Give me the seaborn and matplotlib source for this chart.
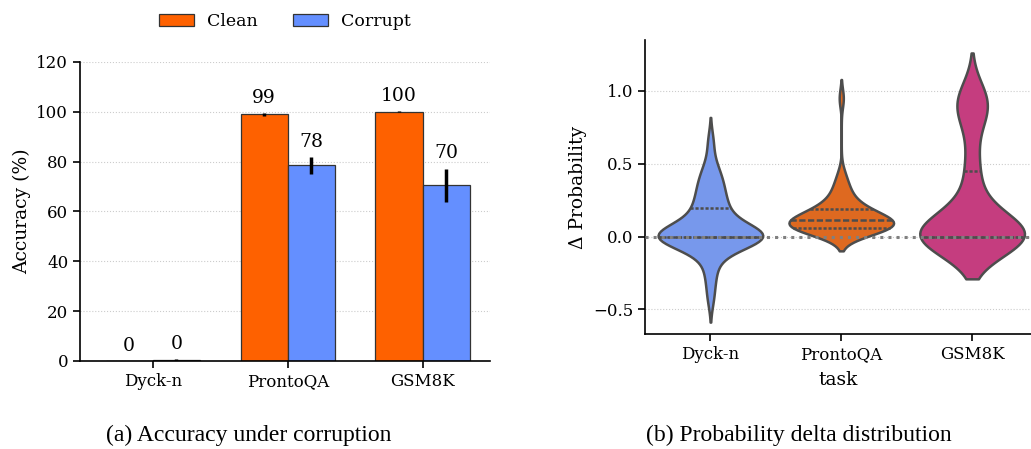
import numpy as np
import pandas as pd
import matplotlib
matplotlib.use("Agg")
import matplotlib.pyplot as plt
import seaborn as sns

tasks = ["Dyck-n", "ProntoQA", "GSM8K"]
conditions = ["Clean", "Corrupt"]

# accuracy (%) with error bar half-widths
clean_acc = [0.0, 99.0, 100.0]
clean_err = [0.0, 0.5, 0.2]
corrupt_acc = [0.4, 78.5, 70.5]
corrupt_err = [0.3, 3.4, 6.7]

# probability deltas per task
dyck_delta = [-0.42, -0.3, -0.22, -0.15, -0.1, -0.06, -0.03,
              0.0, 0.0, 0.0, 0.0, 0.0, 0.0, 0.0, 0.0,
              0.0, 0.0, 0.0, 0.0, 0.0, 0.0, 0.0, 0.0,
              0.02, 0.05, 0.08, 0.1, 0.13, 0.16, 0.19, 0.2,
              0.22, 0.26, 0.3, 0.33, 0.36, 0.4, 0.44, 0.5, 0.65]
pronto_delta = [0.03, 0.035, 0.04, 0.045, 0.05, 0.05, 0.055, 0.058, 0.06, 0.06,
                0.06, 0.065, 0.07, 0.08, 0.085, 0.09, 0.095, 0.1, 0.105, 0.11,
                0.11, 0.115, 0.12, 0.13, 0.135, 0.14, 0.15, 0.16, 0.17, 0.19,
                0.19, 0.2, 0.22, 0.24, 0.27, 0.3, 0.33, 0.37, 0.43, 0.95]
gsm_delta = [0.0, 0.0, 0.0, 0.0, 0.0, 0.0, 0.0, 0.0, 0.0, 0.0, 0.0,
             0.0, 0.0, 0.0, 0.0, 0.0, 0.0, 0.0, 0.0, 0.0, 0.0, 0.0,
             0.03, 0.06, 0.1, 0.14, 0.19, 0.25, 0.32, 0.43, 0.5, 0.6,
             0.8, 0.85, 0.88, 0.9, 0.92, 0.94, 0.96, 0.97]

bar_colors = ["#FE6100", "#648FFF"]
violin_colors = ["#648FFF", "#FE6100", "#DC267F"]

sns.set_style("ticks")
plt.rcParams["font.family"] = "DejaVu Serif"
plt.rcParams["text.color"] = "black"
plt.rcParams["axes.labelcolor"] = "black"
plt.rcParams["xtick.color"] = "black"
plt.rcParams["ytick.color"] = "black"

fig = plt.figure(figsize=(10.31, 4.49), dpi=100)
ax1 = fig.add_axes([0.0776, 0.196, 0.3977, 0.666])
ax2 = fig.add_axes([0.6256, 0.256, 0.3744, 0.655])

# (a) accuracy bars
acc_df = pd.DataFrame({
    "task": tasks * 2,
    "condition": ["Clean"] * 3 + ["Corrupt"] * 3,
    "acc": clean_acc + corrupt_acc,
})
sns.barplot(data=acc_df, x="task", y="acc", hue="condition", order=tasks,
            hue_order=conditions, palette=bar_colors, saturation=1,
            errorbar=None, edgecolor="#333333", linewidth=0.9, width=0.7, ax=ax1)

for cont, errs in zip(ax1.containers, [clean_err, corrupt_err]):
    for bar, e in zip(cont, errs):
        x = bar.get_x() + bar.get_width() / 2
        h = bar.get_height()
        ax1.errorbar(x, h, yerr=e, color="black", lw=2.5, capsize=0, zorder=4)
        ax1.text(x, h + e + 2.5, f"{h:.0f}", ha="center", va="bottom", fontsize=13.5)

handles, labels = ax1.get_legend_handles_labels()
ax1.legend(handles, labels, loc="center", bbox_to_anchor=(0.5, 1.134), ncol=2,
           frameon=False, fontsize=12.5)
ax1.set_ylim(0, 120)
ax1.set_xlim(-0.54, 2.5)
ax1.set_yticks([0, 20, 40, 60, 80, 100, 120])
ax1.set_xlabel("")
ax1.set_ylabel("Accuracy (%)", fontsize=13.5)
ax1.yaxis.grid(True, linestyle=":", color="#cccccc", lw=0.8)
ax1.set_axisbelow(True)
sns.despine(ax=ax1)

# (b) delta violins
delta_df = pd.DataFrame({
    "task": ["Dyck-n"] * len(dyck_delta) + ["ProntoQA"] * len(pronto_delta)
            + ["GSM8K"] * len(gsm_delta),
    "delta": dyck_delta + pronto_delta + gsm_delta,
})
sns.violinplot(data=delta_df, x="task", y="delta", hue="task", order=tasks,
               hue_order=tasks, palette=violin_colors, inner="quart",
               density_norm="width", bw_method=0.4, linewidth=1.8,
               linecolor="#4d4d4d", legend=False, ax=ax2)
ax2.axhline(0, ls=":", color="gray", lw=2.2, zorder=5)
ax2.set_ylim(-0.67, 1.35)
ax2.set_xlim(-0.5, 2.45)
ax2.set_yticks([-0.5, 0.0, 0.5, 1.0])
ax2.set_xlabel("task", fontsize=13.5, labelpad=6)
ax2.set_ylabel("Δ Probability", fontsize=13.5)
ax2.yaxis.grid(True, linestyle=":", color="#cccccc", lw=0.8)
ax2.set_axisbelow(True)
sns.despine(ax=ax2)

for ax in (ax1, ax2):
    ax.tick_params(labelsize=12, length=5, width=1.2)
    for s in ("left", "bottom"):
        ax.spines[s].set_linewidth(1.2)
        ax.spines[s].set_color("black")

fig.text(249 / 1031, 1 - 435 / 449, "(a) Accuracy under corruption",
         ha="center", va="center", family="Liberation Serif", fontsize=17)
fig.text(799 / 1031, 1 - 435 / 449, "(b) Probability delta distribution",
         ha="center", va="center", family="Liberation Serif", fontsize=17)

fig.savefig("out.png", dpi=100)
